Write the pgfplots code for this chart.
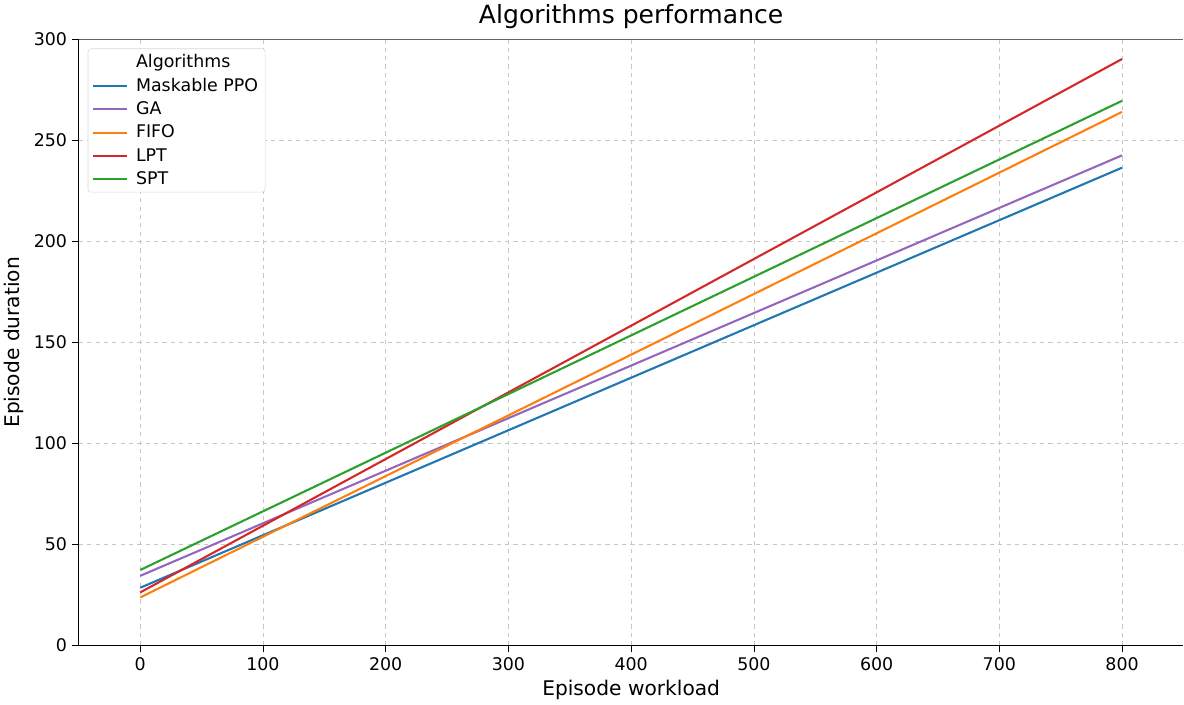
\documentclass[border=0pt]{standalone}
\usepackage{pgfplots}
\pgfplotsset{compat=1.18}
\usepackage{fontspec}
\setmainfont{DejaVu Sans}
\definecolor{tabblue}{HTML}{1F77B4}
\definecolor{tabpurple}{HTML}{9467BD}
\definecolor{taborange}{HTML}{FF7F0E}
\definecolor{tabred}{HTML}{D62728}
\definecolor{tabgreen}{HTML}{2CA02C}
\begin{document}
\begin{tikzpicture}
\begin{axis}[
    width=793pt, height=435pt, scale only axis,
    xmin=-50, xmax=850, ymin=0, ymax=300,
    xtick={0,100,...,800}, ytick={0,50,...,300},
    axis x line*=bottom, axis y line*=left,
    axis line style={black, thick, -},
    tick style={black, thin}, tick align=outside,
    major tick length=5pt,
    grid=major,
    grid style={gray!45, dashed, thin},
    tick label style={font=\fontsize{12.5}{15}\selectfont},
    /pgf/number format/assume math mode=true,
    title={Algorithms performance},
    title style={font=\fontsize{18}{22}\selectfont, yshift=-2pt},
    xlabel={Episode workload},
    ylabel={Episode duration},
    label style={font=\fontsize{14.5}{17}\selectfont},
    legend style={at={(0.008,0.985)}, anchor=north west,
        draw=gray!30, rounded corners=2pt, fill=white,
        font=\fontsize{12.5}{16}\selectfont, row sep=2pt},
    legend image code/.code={\draw[#1] (0pt,0pt) -- (24pt,0pt);},
    legend cell align=left,
    every axis plot/.append style={line width=1.5pt},
    after end axis/.code={\draw[gray!80!black, thick] (rel axis cs:0,1) -- (rel axis cs:1,1);},
]
\addlegendimage{empty legend}
\addlegendentry{\hspace{4pt}Algorithms}
\addplot[tabblue] coordinates {(0,28.5) (800,236.5)};
\addlegendentry{\hspace{4pt}Maskable PPO}
\addplot[tabpurple] coordinates {(0,34.4) (800,242.6)};
\addlegendentry{\hspace{4pt}GA}
\addplot[taborange] coordinates {(0,23.7) (800,264.1)};
\addlegendentry{\hspace{4pt}FIFO}
\addplot[tabred] coordinates {(0,26.2) (800,290.3)};
\addlegendentry{\hspace{4pt}LPT}
\addplot[tabgreen] coordinates {(0,37.3) (800,269.6)};
\addlegendentry{\hspace{4pt}SPT}
\end{axis}
\end{tikzpicture}
\end{document}
